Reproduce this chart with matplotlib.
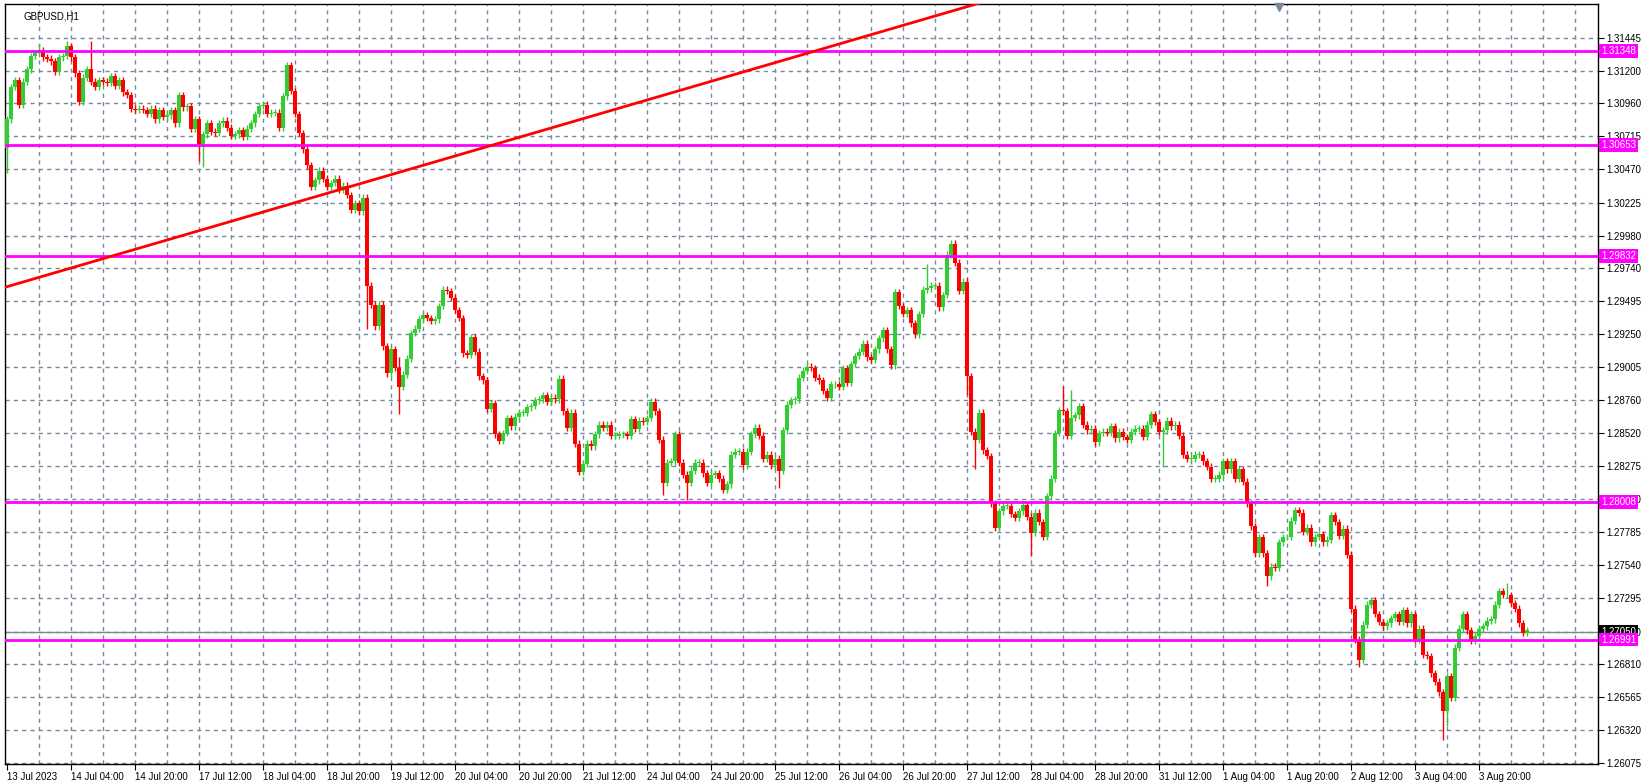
import matplotlib
matplotlib.use("Agg")
import matplotlib.pyplot as plt
from matplotlib.patches import Rectangle
import numpy as np

plt.rcParams['font.family'] = ['Liberation Sans', 'DejaVu Sans']

title = "GBPUSD,H1"
closes = [
 1.3084,1.3108,1.3113,1.3095,1.3112,1.3121,1.3131,1.3133,1.3135,1.3130,
 1.3129,1.3127,1.3119,1.3130,1.3131,1.3138,1.3130,1.3118,1.3097,1.3115,
 1.3121,1.3112,1.3108,1.3113,1.3112,1.3111,1.3116,1.3109,1.3113,1.3104,
 1.3102,1.3092,1.3091,1.3092,1.3091,1.3088,1.3092,1.3084,1.3091,1.3086,
 1.3087,1.3091,1.3081,1.3102,1.3093,1.3094,1.3077,1.3084,1.3066,1.3073,
 1.3081,1.3075,1.3074,1.3081,1.3083,1.3078,1.3072,1.3073,1.3076,1.3071,
 1.3077,1.3081,1.3088,1.3094,1.3095,1.3088,1.3089,1.3089,1.3078,1.3101,
 1.3124,1.3105,1.3088,1.3074,1.3062,1.3050,
 1.3034,1.3039,1.3046,1.3040,1.3034,1.3037,1.3040,1.3032,1.3035,1.3028,
 1.3017,1.3022,1.3016,1.3026,1.2961,1.2947,1.2931,1.2947,1.2916,1.2896,
 1.2914,1.2900,1.2886,1.2895,1.2907,1.2926,1.2929,1.2936,1.2939,1.2937,
 1.2935,1.2936,1.2946,1.2958,1.2957,1.2952,1.2943,1.2937,1.2911,1.2910,
 1.2923,1.2912,1.2894,1.2891,1.2870,1.2874,1.2851,1.2846,1.2852,1.2863,
 1.2857,1.2864,1.2867,1.2867,1.2871,1.2872,1.2876,1.2877,1.2880,1.2875,
 1.2878,1.2877,1.2892,1.2868,1.2856,1.2867,1.2844,1.2823,1.2829,1.2844,
 1.2842,1.2851,1.2858,1.2856,1.2858,1.2850,1.2850,1.2851,1.2851,1.2850,
 1.2862,1.2855,1.2861,1.2860,1.2863,1.2875,1.2868,1.2847,1.2815,1.2830,
 1.2831,1.2851,1.2830,1.2821,1.2815,1.2824,1.2830,1.2830,1.2822,1.2815,
 1.2821,1.2822,1.2818,1.2810,1.2814,1.2836,1.2838,1.2838,1.2828,1.2838,
 1.2851,1.2856,1.2850,1.2833,1.2836,1.2828,1.2833,1.2824,1.2854,1.2873,
 1.2876,1.2877,1.2893,1.2898,1.2901,1.2900,1.2893,1.2891,1.2883,1.2878,
 1.2888,1.2888,1.2886,1.2900,1.2889,1.2903,1.2909,1.2912,1.2918,1.2908,
 1.2906,1.2914,1.2922,1.2928,1.2914,1.2902,1.2956,1.2946,1.2940,1.2943,
 1.2933,1.2925,1.2940,1.2958,1.2959,1.2961,1.2961,1.2945,
 1.2954,1.2984,1.2992,1.2978,1.2957,1.2964,1.2894,1.2853,1.2847,1.2867,
 1.2839,1.2835,1.2800,1.2782,1.2794,1.2798,1.2798,1.2792,1.2789,1.2794,
 1.2799,1.2790,1.2778,1.2793,1.2786,1.2775,1.2805,1.2818,1.2852,1.2869,
 1.2868,1.2850,1.2863,1.2865,1.2872,1.2858,1.2854,1.2855,1.2845,1.2852,
 1.2853,1.2852,1.2857,1.2848,1.2853,1.2849,1.2847,1.2853,1.2855,1.2855,
 1.2849,1.2858,1.2866,1.2860,1.2853,1.2854,1.2861,1.2857,1.2858,1.2850,
 1.2836,1.2833,1.2833,1.2836,1.2836,1.2831,1.2827,1.2818,1.2818,1.2821,
 1.2831,1.2825,1.2831,1.2818,1.2825,1.2816,1.2800,1.2783,1.2763,1.2775,
 1.2763,1.2746,1.2753,1.2752,1.2771,1.2775,1.2775,1.2787,1.2795,1.2793,
 1.2779,1.2782,1.2771,1.2775,1.2777,1.2771,1.2773,1.2791,1.2786,1.2776,
 1.2781,
 1.2762,1.2722,1.2699,1.2684,1.2710,1.2725,1.2728,1.2718,1.2712,1.2709,
 1.2711,1.2715,1.2718,1.2712,1.2721,1.2711,1.2718,1.2699,1.2707,1.2688,
 1.2687,1.2674,1.2668,1.2660,1.2646,1.2672,1.2656,1.2693,1.2707,1.2718,
 1.2706,1.2698,1.2702,1.2707,1.2709,1.2713,1.2714,1.2725,1.2735,1.2732,
 1.2732,1.2726,1.2722,1.2711,1.2704,1.2706,
]
first_open = 1.3063
wick = 0.00025
high_override = {8: 1.3140, 15: 1.3142, 21: 1.3142, 70: 1.3126, 98: 1.2908,
                 230: 1.2977, 236: 1.2995, 264: 1.2887, 266: 1.2884, 375: 1.2741}
low_override = {0: 1.3044, 48: 1.3053, 49: 1.3049, 90: 1.2929, 98: 1.2866,
                164: 1.2806, 170: 1.2802, 193: 1.2811, 240: 1.2880, 242: 1.2825,
                256: 1.2761, 289: 1.2827, 315: 1.2739, 338: 1.2679, 359: 1.2625,
                360: 1.2635}
xlabels = ["13 Jul 2023","14 Jul 04:00","14 Jul 20:00","17 Jul 12:00","18 Jul 04:00",
           "18 Jul 20:00","19 Jul 12:00","20 Jul 04:00","20 Jul 20:00","21 Jul 12:00",
           "24 Jul 04:00","24 Jul 20:00","25 Jul 12:00","26 Jul 04:00","26 Jul 20:00",
           "27 Jul 12:00","28 Jul 04:00","28 Jul 20:00","31 Jul 12:00","1 Aug 04:00",
           "1 Aug 20:00","2 Aug 12:00","3 Aug 04:00","3 Aug 20:00"]
yticks = [1.31445,1.31200,1.30960,1.30715,1.30470,1.30225,1.29980,1.29740,1.29495,
          1.29250,1.29005,1.28760,1.28520,1.28275,1.28030,1.27785,1.27540,1.27295,
          1.27050,1.26810,1.26565,1.26320,1.26075]
levels = [1.31348, 1.30653, 1.29832, 1.28008, 1.26991]
current_price = 1.27050
trend_pts = ([-0.25, 243.0], [1.2960, 1.3170])

closes = np.array(closes)
n = len(closes)
opens = np.concatenate([[first_open], closes[:-1]])
highs = np.maximum(opens, closes) + wick
lows = np.minimum(opens, closes) - wick
for k, v in high_override.items(): highs[k] = max(highs[k], v)
for k, v in low_override.items(): lows[k] = min(lows[k], v)

W, H = 1641, 783
fig = plt.figure(figsize=(W/100, H/100), dpi=100)
ax = fig.add_axes([5/W, 1-764/H, (1598-5)/W, (764-4)/H])
ax.set_xlim(-0.5, 397.75)
ax.set_ylim(1.26070, 1.31694)

GREEN, RED = "#32CD32", "#FF0000"
x = np.arange(n)
cols = [GREEN if c >= o else RED for o, c in zip(opens, closes)]
ax.vlines(x, lows, highs, colors=cols, linewidth=1.0, zorder=3)
for i in range(n):
    b = min(opens[i], closes[i]); h = max(abs(closes[i]-opens[i]), 0.00003)
    ax.add_patch(Rectangle((i-0.38, b), 0.76, h, facecolor=cols[i], edgecolor="none", zorder=4))

for gx in range(8, 398, 8):
    ax.axvline(gx, color="#778899", ls=(0, (3, 3)), lw=1, zorder=1)
for gy in yticks:
    ax.axhline(gy, color="#778899", ls=(0, (3, 3)), lw=1, zorder=1)

for lv in levels:
    ax.axhline(lv, color="#FF00FF", lw=2, zorder=5)
ax.axhline(current_price, color="#778899", lw=1, zorder=2)
slope = (trend_pts[1][1]-trend_pts[1][0])/(trend_pts[0][1]-trend_pts[0][0])
ax.plot([trend_pts[0][0], 300], [trend_pts[1][0], trend_pts[1][0]+slope*(300-trend_pts[0][0])],
        color="#FF0000", lw=2, zorder=6)

ax.set_yticks(yticks)
ax.set_yticklabels([f"{v:.5f}" for v in yticks], fontsize=7)
ax.yaxis.tick_right()
ax.tick_params(axis="y", length=4, pad=2)
ax.set_xticks(range(0, 16*len(xlabels), 16))
ax.set_xticklabels(xlabels, fontsize=7, ha="left")
ax.tick_params(axis="x", length=4, pad=2)
for s in ax.spines.values():
    s.set_color("black"); s.set_linewidth(1)

tr = ax.get_yaxis_transform()
for lv in levels:
    ax.text(1.002, lv, f"{lv:.5f}", transform=tr, fontsize=7, color="white", va="center",
            ha="left", bbox=dict(boxstyle="square,pad=0.2", fc="#FF00FF", ec="none"),
            zorder=10, clip_on=False)
ax.text(1.002, current_price, f"{current_price:.5f}", transform=tr, fontsize=7, color="white",
        va="center", ha="left", bbox=dict(boxstyle="square,pad=0.2", fc="black", ec="none"),
        zorder=9, clip_on=False)
ax.plot([318], [1.3167], marker="v", color="#778899", markersize=6, clip_on=False, zorder=7)
ax.text(4, 1.3160, title, fontsize=7, va="center", ha="left", zorder=8)

fig.savefig("out.png", dpi=100, facecolor="white")
